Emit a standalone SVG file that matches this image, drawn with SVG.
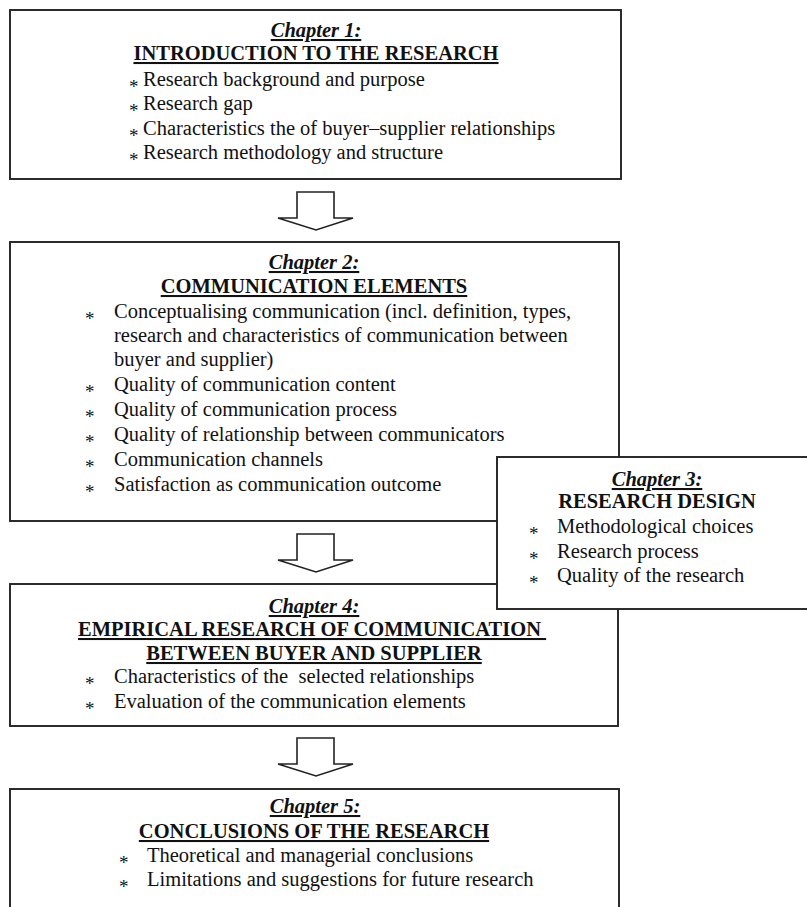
<svg xmlns="http://www.w3.org/2000/svg" width="807" height="907" viewBox="0 0 807 907">
  <style>
    text { font-family: "Liberation Serif", "Times New Roman", serif; font-size: 20.5px; fill: #111; }
    .box { fill: #fff; stroke: #222; stroke-width: 1.9; }
    .chap { font-weight: bold; font-style: italic; text-decoration: underline; text-anchor: middle; }
    .head { font-weight: bold; text-decoration: underline; text-anchor: middle; }
    .headplain { font-weight: bold; text-anchor: middle; }
    .ast { font-size: 19px; }
    .pre { white-space: pre; }
    .arrow { fill: #fff; stroke: #222; stroke-width: 1.6; stroke-linejoin: miter; }
  </style>
  <rect width="807" height="907" fill="#fff"/>

  <!-- flow arrows between chapters -->
  <g id="connectors">
    <path class="arrow" d="M297,192 H334 V218 H353 L316,230 L278,218 H297 Z"/>
    <path class="arrow" d="M297,534 H334 V560 H353 L316,572 L278,560 H297 Z"/>
    <path class="arrow" d="M297,738 H334 V764 H353 L316,776 L278,764 H297 Z"/>
  </g>

  <g id="chapter1">
    <rect class="box" x="10" y="10" width="611" height="169"/>
    <text class="chap" x="316" y="37">Chapter 1:</text>
    <text class="head" x="316" y="60">INTRODUCTION TO THE RESEARCH</text>
    <text class="ast" x="129" y="93">*</text>
    <text class="ast" x="129" y="117">*</text>
    <text class="ast" x="129" y="142">*</text>
    <text class="ast" x="129" y="166">*</text>
    <text x="143" y="86">Research background and purpose</text>
    <text x="143" y="110">Research gap</text>
    <text x="143" y="135">Characteristics the of buyer–supplier relationships</text>
    <text x="143" y="159">Research methodology and structure</text>
  </g>

  <g id="chapter2">
    <rect class="box" x="10" y="242" width="609" height="279"/>
    <text class="chap" x="314" y="269">Chapter 2:</text>
    <text class="head" x="314" y="293">COMMUNICATION ELEMENTS</text>
    <text class="ast" x="85" y="325">*</text>
    <text class="ast" x="85" y="398">*</text>
    <text class="ast" x="85" y="423">*</text>
    <text class="ast" x="85" y="448">*</text>
    <text class="ast" x="85" y="473">*</text>
    <text class="ast" x="85" y="498">*</text>
    <text x="114" y="318">Conceptualising communication (incl. definition, types,</text>
    <text x="114" y="342">research and characteristics of communication between</text>
    <text x="114" y="366">buyer and supplier)</text>
    <text x="114" y="391">Quality of communication content</text>
    <text x="114" y="416">Quality of communication process</text>
    <text x="114" y="441">Quality of relationship between communicators</text>
    <text x="114" y="466">Communication channels</text>
    <text x="114" y="491">Satisfaction as communication outcome</text>
  </g>

  <g id="chapter4">
    <rect class="box" x="10" y="584" width="608" height="142"/>
    <text class="chap" x="314" y="613">Chapter 4:</text>
    <text class="head" x="78" y="636" style="text-anchor:start">EMPIRICAL RESEARCH OF COMMUNICATION&#160;</text>
    <text class="head" x="314" y="660">BETWEEN BUYER AND SUPPLIER</text>
    <text class="ast" x="85" y="690">*</text>
    <text class="ast" x="85" y="715">*</text>
    <text class="pre" x="114" y="683">Characteristics of the  selected relationships</text>
    <text x="114" y="708">Evaluation of the communication elements</text>
  </g>

  <g id="chapter3">
    <rect class="box" x="497" y="457" width="312" height="152"/>
    <text class="chap" x="657" y="486">Chapter 3:</text>
    <text class="headplain" x="657" y="508">RESEARCH DESIGN</text>
    <text class="ast" x="529" y="540">*</text>
    <text class="ast" x="529" y="565">*</text>
    <text class="ast" x="529" y="589">*</text>
    <text x="557" y="533">Methodological choices</text>
    <text x="557" y="558">Research process</text>
    <text x="557" y="582">Quality of the research</text>
  </g>

  <g id="chapter5">
    <rect class="box" x="10" y="789" width="609" height="126"/>
    <text class="chap" x="315" y="813">Chapter 5:</text>
    <text class="head" x="314" y="838">CONCLUSIONS OF THE RESEARCH</text>
    <text class="ast" x="119" y="869">*</text>
    <text class="ast" x="119" y="893">*</text>
    <text x="147" y="862">Theoretical and managerial conclusions</text>
    <text x="147" y="886">Limitations and suggestions for future research</text>
  </g>
</svg>
